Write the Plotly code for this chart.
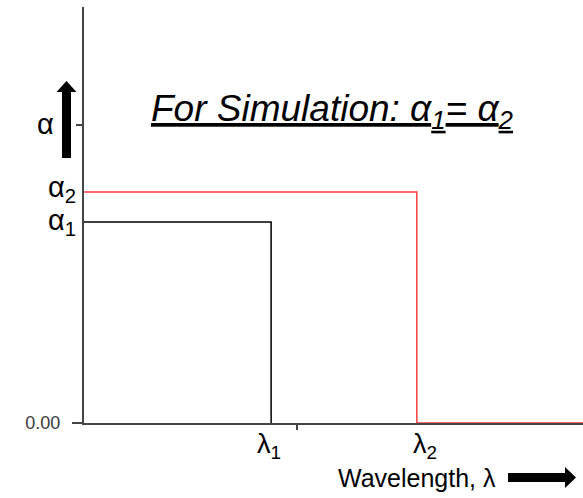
import plotly.graph_objects as go

# Absorption step profiles (normalised units)
lambda_1 = 0.375
lambda_2 = 0.667
alpha_1 = 0.483
alpha_2 = 0.555
alpha_tick = 0.716
x_tick = 0.427
x_max = 1.0

black_x = [0, lambda_1, lambda_1]
black_y = [alpha_1, alpha_1, 0]
red_x = [0, lambda_2, lambda_2, x_max]
red_y = [alpha_2, alpha_2, 0, 0]

W, H = 583, 498
ML, MR, MT, MB = 84, 0, 7, 75
PW, PH = W - ML - MR, H - MT - MB

FONT = "Liberation Sans"


def px(x, y):
    """Pixel position -> paper coordinates."""
    return (x - ML) / PW, (H - MB - y) / PH


def poly(points):
    pts = [px(x, y) for x, y in points]
    return "M " + " L ".join(f"{a:.5f},{b:.5f}" for a, b in pts) + " Z"


fig = go.Figure()
fig.add_trace(go.Scatter(x=black_x, y=black_y, mode="lines",
                         line=dict(color="black", width=1.5), hoverinfo="skip"))
fig.add_trace(go.Scatter(x=red_x, y=red_y, mode="lines",
                         line=dict(color="#ff3b3b", width=1.5), hoverinfo="skip"))

fig.update_layout(
    width=W, height=H,
    margin=dict(l=ML, r=MR, t=MT, b=MB),
    paper_bgcolor="white", plot_bgcolor="white",
    showlegend=False,
    font=dict(family=FONT, color="black"),
    xaxis=dict(range=[0, x_max], showgrid=False, zeroline=False,
               showline=True, linecolor="#444", linewidth=2,
               tickvals=[x_tick], ticktext=[""], ticks="outside",
               ticklen=5, tickcolor="#444", tickwidth=2,
               layer="below traces", fixedrange=True),
    yaxis=dict(range=[0, 1], showgrid=False, zeroline=False,
               showline=True, linecolor="#444", linewidth=2,
               tickvals=[0, alpha_tick], ticktext=["0.00", ""],
               ticks="outside", ticklen=6, tickcolor="#444", tickwidth=2,
               tickfont=dict(family=FONT, size=18, color="#3a3a3a"),
               ticklabelstandoff=12,
               layer="below traces", fixedrange=True),
)

# extension of the x axis line to the left of the y axis
x0, _ = px(72, 0)
fig.add_shape(type="line", xref="paper", yref="paper", x0=x0, x1=0, y0=0, y1=0,
              line=dict(color="#444", width=2))

# arrows next to the axis labels
fig.add_shape(type="path", xref="paper", yref="paper",
              path=poly([(62, 158), (71, 158), (71, 92), (76.5, 92), (66.5, 81),
                         (56.5, 92), (62, 92)]),
              fillcolor="black", line=dict(width=0))
fig.add_shape(type="path", xref="paper", yref="paper",
              path=poly([(508, 473), (565, 473), (565, 467), (576, 477.5),
                         (565, 488), (565, 482), (508, 482)]),
              fillcolor="black", line=dict(width=0))

# y-side labels
fig.add_annotation(xref="paper", yref="y", x=px(56, 0)[0], y=alpha_tick,
                   text="α", showarrow=False, xanchor="right", yanchor="middle",
                   yshift=1, font=dict(family=FONT, size=29))
fig.add_annotation(xref="paper", yref="y", x=px(78, 0)[0], y=alpha_2,
                   text="α<sub>2</sub>", showarrow=False, xanchor="right",
                   yanchor="middle", yshift=3, font=dict(family=FONT, size=29))
fig.add_annotation(xref="paper", yref="y", x=px(78, 0)[0], y=alpha_1,
                   text="α<sub>1</sub>", showarrow=False, xanchor="right",
                   yanchor="middle", yshift=0, font=dict(family=FONT, size=29))

# wavelength labels
fig.add_annotation(xref="x", yref="paper", x=lambda_1, y=0, text="λ<sub>1</sub>",
                   showarrow=False, xanchor="center", yanchor="top",
                   xshift=-2, yshift=-4, font=dict(family=FONT, size=27))
fig.add_annotation(xref="x", yref="paper", x=lambda_2, y=0, text="λ<sub>2</sub>",
                   showarrow=False, xanchor="center", yanchor="top",
                   xshift=8, yshift=-4, font=dict(family=FONT, size=27))
fig.add_annotation(xref="paper", yref="paper", x=px(498, 0)[0], y=px(0, 478)[1],
                   text="Wavelength, λ", showarrow=False, xanchor="right",
                   yanchor="middle", font=dict(family=FONT, size=25))

# title
fig.add_annotation(xref="paper", yref="paper", x=px(149, 0)[0], y=px(0, 111)[1],
                   text="<i><u>For Simulation: α<sub>1</sub>= α<sub>2</sub></u></i>",
                   showarrow=False, xanchor="left", yanchor="middle",
                   font=dict(family=FONT, size=37))

fig.write_html("out.html")
